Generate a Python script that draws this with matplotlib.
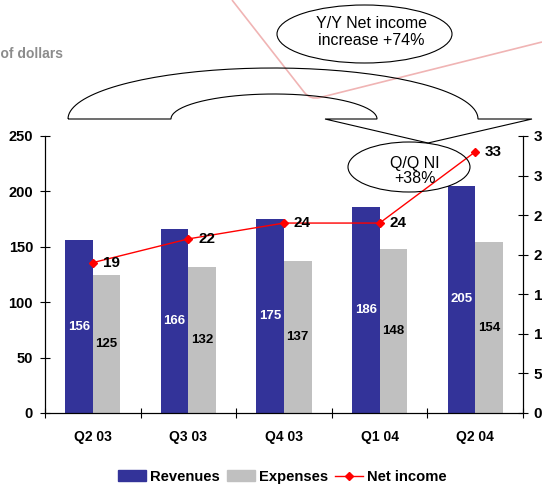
import numpy as np
import matplotlib
matplotlib.use("Agg")
import matplotlib.pyplot as plt
from matplotlib.patches import Ellipse, PathPatch, Patch
from matplotlib.path import Path
from matplotlib.lines import Line2D

plt.rcParams["font.family"] = ["Liberation Sans", "DejaVu Sans"]

# quarterly figures, millions of dollars
quarters = ["Q2 03", "Q3 03", "Q4 03", "Q1 04", "Q2 04"]
revenues = [156, 166, 175, 186, 205]
expenses = [125, 132, 137, 148, 154]
net_income = [19, 22, 24, 24, 33]

REV_COLOR = "#333399"
EXP_COLOR = "#c0c0c0"
NI_COLOR = "#ff0000"

W, H = 542, 487
fig = plt.figure(figsize=(W / 100, H / 100), dpi=100)


def px_box(x0, y0, x1, y1):
    # pixel box (top-left origin) -> figure fraction rect
    return [x0 / W, 1 - y1 / H, (x1 - x0) / W, (y1 - y0) / H]


ax = fig.add_axes(px_box(45, 136, 523, 413))
x = np.arange(len(quarters))
bw = 0.288
ax.bar(x - bw / 2, revenues, bw, color=REV_COLOR, zorder=2)
ax.bar(x + bw / 2, expenses, bw, color=EXP_COLOR, zorder=2)
for xi, r, e in zip(x, revenues, expenses):
    ax.text(xi - bw / 2, r / 2, str(r), color="white", ha="center", va="center",
            fontsize=9.5, fontweight="bold", zorder=3)
    ax.text(xi + bw / 2, e / 2, str(e), color="black", ha="center", va="center",
            fontsize=9.5, fontweight="bold", zorder=3)

ax.set_xlim(-0.5, len(quarters) - 0.5)
ax.set_ylim(0, 250)
ax.set_yticks(range(0, 251, 50))
ax.set_xticks(np.arange(-0.5, len(quarters)))
ax.set_xticklabels([])
ax.set_xticks(x, minor=True)
ax.set_xticklabels(quarters, minor=True)
ax.tick_params(axis="x", which="major", direction="inout", length=7, width=0.8)
ax.tick_params(axis="x", which="minor", length=0, pad=12, labelsize=10)
ax.tick_params(axis="y", direction="inout", length=7.2, width=0.8, pad=5, labelsize=10.5)
for lbl in ax.get_xticklabels(minor=True) + ax.get_yticklabels():
    lbl.set_fontweight("bold")
ax.spines["top"].set_visible(False)

# net income on the secondary axis
ax2 = ax.twinx()
ax2.plot(x, net_income, color=NI_COLOR, lw=1, marker="D", ms=4, zorder=3)
for xi, v in zip(x, net_income):
    ax2.annotate(str(v), (xi, v), xytext=(7, 0), textcoords="offset points",
                 ha="left", va="center", fontsize=11, fontweight="bold")
ax2.set_ylim(0, 35)
ax2.set_yticks(range(0, 36, 5))
ax2.tick_params(axis="y", direction="inout", length=7.2, width=0.8, pad=4, labelsize=11)
for lbl in ax2.get_yticklabels():
    lbl.set_fontweight("bold")
ax2.spines["top"].set_visible(False)

handles = [
    Patch(color=REV_COLOR, label="Revenues"),
    Patch(color=EXP_COLOR, label="Expenses"),
    Line2D([], [], color=NI_COLOR, lw=1, marker="D", ms=4, label="Net income"),
]
fig.legend(handles=handles, loc="center", bbox_to_anchor=(282.5 / W, 1 - 477 / H),
           ncol=3, frameon=False, handlelength=1.9, handleheight=0.75,
           handletextpad=0.27, columnspacing=0.48, prop={"weight": "bold", "size": 10.6})

# callouts drawn in pixel space on top
over = fig.add_axes([0, 0, 1, 1], zorder=5)
over.set_xlim(0, W)
over.set_ylim(H, 0)
over.axis("off")

over.text(63, 54, "Millions of dollars", ha="right", va="center", fontsize=10,
          fontweight="bold", color="#8c8c8c")

# pink slide decoration
pink = Path([(232, 0), (304, 92), (310, 100), (320, 97.5), (542, 42)],
            [Path.MOVETO, Path.LINETO, Path.CURVE3, Path.CURVE3, Path.LINETO])
over.add_patch(PathPatch(pink, fill=False, edgecolor="#f0b4b4", lw=1.2))

# U-turn arrow from Q2 03 to Q2 04
t = np.linspace(np.pi, 0, 80)
outer = np.column_stack([273 + 205 * np.cos(t), 119 - 51 * np.sin(t)])
inner = np.column_stack([274 + 103 * np.cos(t[::-1]), 119 - 25 * np.sin(t[::-1])])
head = np.array([(532, 119), (428, 143), (325, 119), (377, 119)])
verts = np.vstack([outer, head, inner, outer[:1]])
over.add_patch(PathPatch(Path(verts), fill=False, edgecolor="black", lw=0.8))

over.add_patch(Ellipse((364.5, 34), 175, 58, fill=False, edgecolor="black", lw=0.8))
over.text(371, 32, "Y/Y Net income\nincrease +74%", ha="center", va="center",
          fontsize=11.5, linespacing=1.1)

over.add_patch(Ellipse((409, 167), 122, 50, fill=False, edgecolor="black", lw=0.8))
over.text(415, 171, "Q/Q NI\n+38%", ha="center", va="center", fontsize=11.5,
          linespacing=1.05)

fig.savefig("out.png", dpi=100)
